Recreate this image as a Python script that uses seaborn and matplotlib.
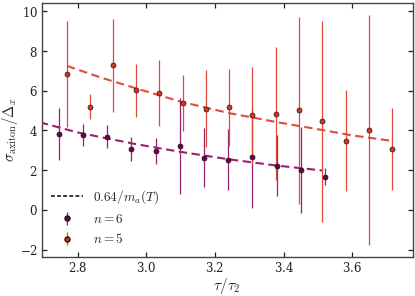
import numpy as np
import pandas as pd
import seaborn as sns
import matplotlib
matplotlib.use("Agg")
import matplotlib.pyplot as plt
from matplotlib.lines import Line2D

# n = 6 simulation points
tau6 = [2.745, 2.815, 2.886, 2.956, 3.027, 3.098, 3.168, 3.239, 3.309, 3.380, 3.450, 3.520]
sig6 = [3.81, 3.77, 3.69, 3.05, 2.97, 3.22, 2.63, 2.52, 2.64, 2.23, 2.01, 1.68]
err6 = [1.30, 0.55, 0.59, 0.60, 0.67, 2.43, 1.50, 1.53, 2.56, 1.53, 2.18, 0.42]

# n = 5 simulation points
tau5 = [2.769, 2.837, 2.903, 2.971, 3.038, 3.106, 3.174, 3.242, 3.309, 3.377, 3.445, 3.513, 3.581, 3.649, 3.717]
sig5 = [6.84, 5.20, 7.28, 6.02, 5.89, 5.38, 5.10, 5.17, 4.77, 4.85, 5.02, 4.46, 3.49, 4.03, 3.05]
err5 = [2.65, 0.63, 2.35, 1.34, 1.68, 1.43, 1.95, 1.93, 2.44, 3.37, 4.70, 5.06, 2.54, 5.80, 2.07]

# 0.64/m_a(T) curves
fit6_tau = [2.690, 2.800, 2.880, 2.967, 3.100, 3.239, 3.380, 3.515]
fit6_val = [4.41, 3.90, 3.62, 3.32, 2.92, 2.55, 2.23, 1.98]
fit5_tau = [2.769, 2.870, 2.970, 3.100, 3.242, 3.380, 3.510, 3.600, 3.717]
fit5_val = [7.25, 6.65, 6.12, 5.45, 4.87, 4.42, 4.03, 3.75, 3.47]

c6_line = "#9c1f6e"
c6_pt = "#5e0a46"
c5_line = "#e04c3c"
c5_pt = "#c9392b"

sns.set_theme(style="ticks")
plt.rcParams["font.family"] = ["DejaVu Serif"]
plt.rcParams["mathtext.fontset"] = "cm"
plt.rcParams["axes.formatter.use_mathtext"] = True

fig = plt.figure(figsize=(4.15, 2.96), dpi=100)
ax = fig.add_axes([0.101, 0.132, 0.8935, 0.858])

df6 = pd.DataFrame({"tau": fit6_tau, "val": fit6_val})
df5 = pd.DataFrame({"tau": fit5_tau, "val": fit5_val})
sns.lineplot(data=df6, x="tau", y="val", ax=ax, color=c6_line, lw=1.5,
             linestyle=(0, (4, 2.2)), zorder=4)
sns.lineplot(data=df5, x="tau", y="val", ax=ax, color=c5_line, lw=1.5,
             linestyle=(0, (4, 2.2)), zorder=4)

ax.errorbar(tau6, sig6, yerr=err6, fmt="o", color=c6_line, ecolor=c6_line, elinewidth=0.9,
            mfc=c6_pt, mec="#2a0520", mew=0.5, ms=3.6, capsize=0, zorder=5)
ax.errorbar(tau5, sig5, yerr=err5, fmt="o", color=c5_line, ecolor=c5_line, elinewidth=0.9,
            mfc=c5_pt, mec="#3a0c08", mew=0.5, ms=3.6, capsize=0, zorder=5)

ax.set_xlim(2.696, 3.776)
ax.set_ylim(-2.37, 10.42)
ax.set_xticks([2.8, 3.0, 3.2, 3.4, 3.6])
ax.set_yticks([-2, 0, 2, 4, 6, 8, 10])
ax.tick_params(direction="in", length=3.5, width=0.9, top=True, right=True,
               labelsize=8.5, colors="#222222", pad=3)
for s in ax.spines.values():
    s.set_color("#444444")
    s.set_linewidth(1.0)

ax.set_xlabel(r"$\tau/\tau_2$", fontsize=11, labelpad=1)
ax.set_ylabel(r"$\sigma_{\rm axiton}/\Delta_x$", fontsize=10.5, labelpad=0)

h_fit = Line2D([], [], color="black", ls=(0, (2.5, 1.5)), lw=1.1)
e6 = ax.errorbar([], [], yerr=[], fmt="o", color=c6_line, mfc=c6_pt, mec="#2a0520", ms=3.6, elinewidth=0.9)
e5 = ax.errorbar([], [], yerr=[], fmt="o", color=c5_line, mfc=c5_pt, mec="#3a0c08", ms=3.6, elinewidth=0.9)
ax.legend([h_fit, e6, e5], [r"$0.64/m_a(T)$", r"$n=6$", r"$n=5$"], loc="lower left",
          frameon=False, fontsize=9.5, handlelength=2.4, borderaxespad=0.3,
          bbox_to_anchor=(0.0, 0.005))

fig.savefig("out.png", dpi=100)
